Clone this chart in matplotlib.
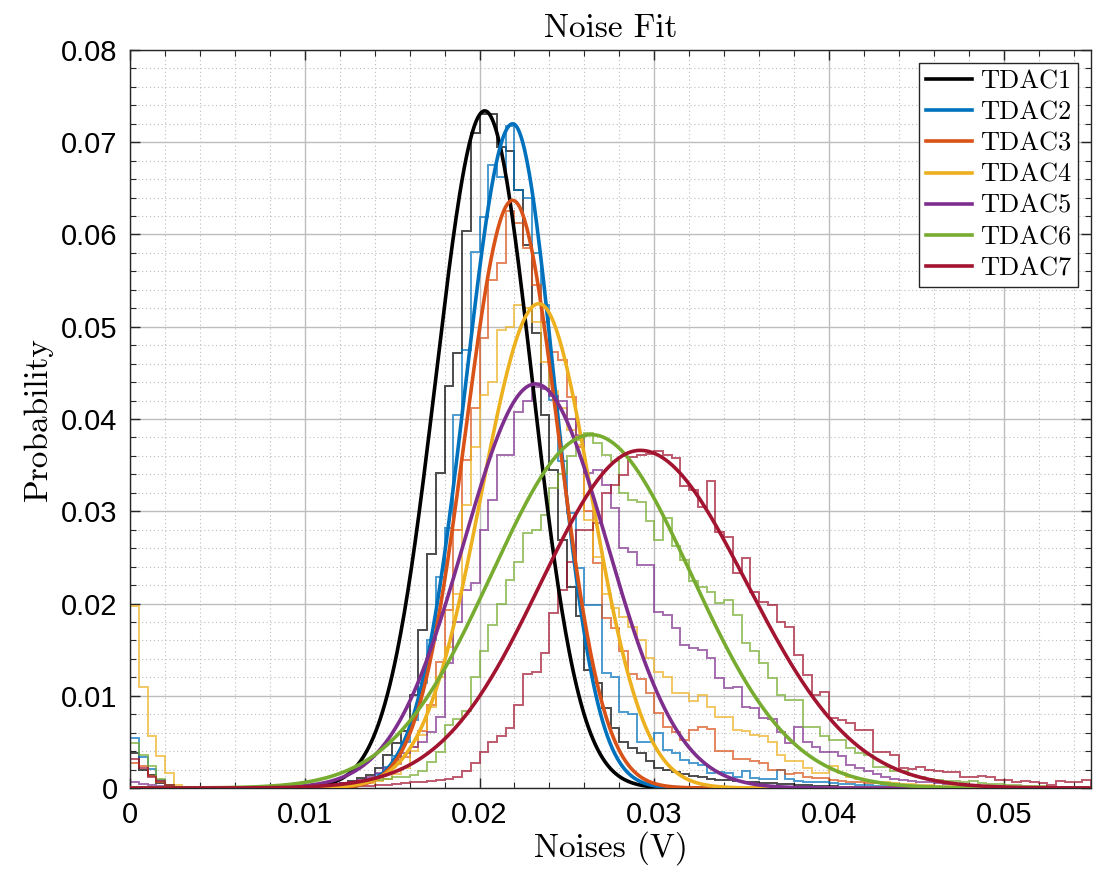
import numpy as np
import matplotlib
matplotlib.use("Agg")
import matplotlib.pyplot as plt
from matplotlib.ticker import MultipleLocator

# histogram bin width (V) and bin values
bin_width = 0.0005

tdac1 = [0.0038, 0.0020, 0.0014, 0.0005, 0.0002, 0, 0, 0, 0, 0,
         0, 0, 0, 0, 0, 0, 0, 0, 0.0001, 0.0001,
         0.0001, 0.0002, 0.0002, 0.0003, 0.0005, 0.0008, 0.0011, 0.0014, 0.0022, 0.0036,
         0.0049, 0.0062, 0.0101, 0.0171, 0.0254, 0.0341, 0.0436, 0.0472, 0.0604, 0.0710,
         0.0731, 0.0731, 0.0695, 0.0690, 0.0648, 0.0589, 0.0493, 0.0404, 0.0345, 0.0269,
         0.0218, 0.0186, 0.0128, 0.0114, 0.0087, 0.0065, 0.0050, 0.0043, 0.0038, 0.0029,
         0.0022, 0.0020, 0.0017, 0.0015, 0.0013, 0.0012, 0.0010, 0.0009, 0.0009, 0.0008,
         0.0007, 0.0006, 0.0005, 0.0005, 0.0004, 0.0004, 0.0003, 0.0003, 0.0002, 0.0002,
         0.0002, 0.0001, 0.0001, 0.0001, 0.0001, 0.0001, 0.0001, 0, 0, 0,
         0, 0, 0, 0, 0, 0, 0, 0, 0, 0,
         0, 0, 0, 0, 0, 0, 0, 0, 0, 0]

tdac2 = [0.0054, 0.0034, 0.0021, 0.0009, 0.0003, 0, 0, 0, 0, 0,
         0, 0, 0, 0, 0, 0, 0, 0, 0, 0.0001,
         0.0001, 0.0001, 0.0002, 0.0002, 0.0003, 0.0004, 0.0006, 0.0010, 0.0015, 0.0023,
         0.0035, 0.0050, 0.0074, 0.0114, 0.0160, 0.0229, 0.0282, 0.0404, 0.0475, 0.0581,
         0.0619, 0.0675, 0.0662, 0.0718, 0.0648, 0.0640, 0.0580, 0.0524, 0.0421, 0.0354,
         0.0298, 0.0238, 0.0198, 0.0198, 0.0125, 0.0120, 0.0082, 0.0080, 0.0050, 0.0050,
         0.0060, 0.0041, 0.0038, 0.0030, 0.0027, 0.0025, 0.0016, 0.0017, 0.0016, 0.0012,
         0.0018, 0.0011, 0.0010, 0.0010, 0.0019, 0.0010, 0.0008, 0.0007, 0.0006, 0.0006,
         0.0005, 0.0004, 0.0004, 0.0003, 0.0003, 0.0002, 0.0002, 0.0002, 0.0001, 0.0001,
         0.0001, 0.0001, 0, 0, 0, 0, 0, 0, 0, 0,
         0, 0, 0, 0, 0, 0, 0, 0, 0, 0]

tdac3 = [0.0027, 0.0024, 0.0013, 0.0006, 0.0002, 0, 0, 0, 0, 0,
         0, 0, 0, 0, 0, 0, 0, 0, 0, 0.0001,
         0.0001, 0.0001, 0.0002, 0.0002, 0.0003, 0.0004, 0.0006, 0.0008, 0.0012, 0.0018,
         0.0026, 0.0034, 0.0045, 0.0062, 0.0090, 0.0137, 0.0193, 0.0280, 0.0356, 0.0412,
         0.0488, 0.0551, 0.0569, 0.0625, 0.0612, 0.0585, 0.0545, 0.0505, 0.0473, 0.0464,
         0.0424, 0.0370, 0.0300, 0.0244, 0.0184, 0.0173, 0.0148, 0.0124, 0.0118, 0.0103,
         0.0081, 0.0066, 0.0061, 0.0052, 0.0063, 0.0066, 0.0064, 0.0040, 0.0040, 0.0032,
         0.0031, 0.0029, 0.0027, 0.0020, 0.0020, 0.0015, 0.0016, 0.0012, 0.0011, 0.0011,
         0.0009, 0.0008, 0.0007, 0.0006, 0.0005, 0.0005, 0.0004, 0.0003, 0.0003, 0.0002,
         0.0002, 0.0002, 0.0001, 0.0001, 0.0001, 0.0001, 0, 0, 0, 0,
         0, 0, 0, 0, 0, 0, 0, 0, 0, 0]

tdac4 = [0.0197, 0.0110, 0.0056, 0.0035, 0.0016, 0.0003, 0, 0, 0, 0,
         0, 0, 0, 0, 0, 0, 0, 0, 0, 0.0001,
         0.0001, 0.0001, 0.0001, 0.0002, 0.0002, 0.0003, 0.0004, 0.0005, 0.0008, 0.0010,
         0.0015, 0.0022, 0.0040, 0.0058, 0.0088, 0.0120, 0.0153, 0.0210, 0.0307, 0.0370,
         0.0426, 0.0440, 0.0496, 0.0500, 0.0524, 0.0520, 0.0505, 0.0462, 0.0430, 0.0412,
         0.0388, 0.0372, 0.0291, 0.0250, 0.0210, 0.0195, 0.0185, 0.0175, 0.0160, 0.0141,
         0.0126, 0.0120, 0.0103, 0.0103, 0.0094, 0.0101, 0.0088, 0.0077, 0.0077, 0.0063,
         0.0062, 0.0057, 0.0056, 0.0050, 0.0036, 0.0029, 0.0029, 0.0022, 0.0016, 0.0016,
         0.0024, 0.0016, 0.0012, 0.0010, 0.0008, 0.0007, 0.0006, 0.0005, 0.0004, 0.0004,
         0.0003, 0.0003, 0.0002, 0.0002, 0.0002, 0.0001, 0.0001, 0.0001, 0, 0,
         0, 0, 0, 0, 0, 0, 0, 0, 0, 0]

tdac5 = [0.0006, 0.0004, 0.0003, 0.0002, 0.0001, 0, 0, 0, 0, 0,
         0, 0, 0, 0, 0, 0, 0, 0, 0.0001, 0.0001,
         0.0001, 0.0002, 0.0003, 0.0004, 0.0005, 0.0007, 0.0009, 0.0012, 0.0016, 0.0022,
         0.0030, 0.0038, 0.0045, 0.0050, 0.0061, 0.0077, 0.0135, 0.0180, 0.0215, 0.0222,
         0.0280, 0.0312, 0.0361, 0.0361, 0.0408, 0.0420, 0.0435, 0.0432, 0.0425, 0.0420,
         0.0400, 0.0383, 0.0341, 0.0345, 0.0328, 0.0303, 0.0260, 0.0256, 0.0242, 0.0242,
         0.0191, 0.0188, 0.0173, 0.0155, 0.0152, 0.0150, 0.0141, 0.0119, 0.0108, 0.0110,
         0.0088, 0.0087, 0.0076, 0.0075, 0.0061, 0.0049, 0.0066, 0.0050, 0.0045, 0.0039,
         0.0039, 0.0035, 0.0025, 0.0022, 0.0018, 0.0015, 0.0012, 0.0010, 0.0009, 0.0008,
         0.0007, 0.0006, 0.0005, 0.0004, 0.0004, 0.0003, 0.0003, 0.0002, 0.0002, 0.0002,
         0.0001, 0.0001, 0.0001, 0.0001, 0.0001, 0, 0, 0, 0, 0]

tdac6 = [0.0049, 0.0036, 0.0024, 0.0010, 0.0003, 0, 0, 0, 0, 0,
         0, 0, 0, 0, 0, 0, 0, 0, 0.0001, 0.0001,
         0.0001, 0.0002, 0.0002, 0.0003, 0.0004, 0.0005, 0.0006, 0.0008, 0.0009, 0.0010,
         0.0012, 0.0012, 0.0014, 0.0018, 0.0028, 0.0039, 0.0068, 0.0075, 0.0083, 0.0120,
         0.0148, 0.0177, 0.0200, 0.0225, 0.0245, 0.0276, 0.0280, 0.0296, 0.0325, 0.0340,
         0.0360, 0.0377, 0.0385, 0.0374, 0.0361, 0.0355, 0.0320, 0.0312, 0.0310, 0.0289,
         0.0269, 0.0293, 0.0262, 0.0247, 0.0224, 0.0218, 0.0213, 0.0201, 0.0204, 0.0188,
         0.0157, 0.0148, 0.0135, 0.0119, 0.0101, 0.0095, 0.0095, 0.0066, 0.0066, 0.0056,
         0.0052, 0.0052, 0.0043, 0.0038, 0.0036, 0.0023, 0.0023, 0.0018, 0.0018, 0.0014,
         0.0012, 0.0010, 0.0009, 0.0008, 0.0008, 0.0006, 0.0008, 0.0005, 0.0004, 0.0004,
         0.0003, 0.0003, 0.0002, 0.0002, 0.0002, 0.0001, 0.0001, 0.0001, 0.0001, 0.0001]

tdac7 = [0.0032, 0.0022, 0.0012, 0.0008, 0.0003, 0.0001, 0, 0, 0, 0,
         0, 0, 0, 0, 0, 0, 0, 0, 0, 0,
         0, 0, 0, 0.0001, 0.0001, 0.0001, 0.0002, 0.0002, 0.0003, 0.0003,
         0.0004, 0.0005, 0.0006, 0.0007, 0.0008, 0.0009, 0.0010, 0.0012, 0.0018, 0.0027,
         0.0039, 0.0050, 0.0056, 0.0065, 0.0090, 0.0124, 0.0126, 0.0146, 0.0190, 0.0215,
         0.0245, 0.0280, 0.0280, 0.0287, 0.0320, 0.0328, 0.0339, 0.0359, 0.0361, 0.0362,
         0.0365, 0.0361, 0.0358, 0.0327, 0.0323, 0.0305, 0.0333, 0.0278, 0.0272, 0.0233,
         0.0249, 0.0213, 0.0202, 0.0198, 0.0180, 0.0175, 0.0144, 0.0122, 0.0101, 0.0104,
         0.0076, 0.0074, 0.0070, 0.0063, 0.0063, 0.0039, 0.0039, 0.0036, 0.0022, 0.0021,
         0.0023, 0.0020, 0.0018, 0.0017, 0.0017, 0.0012, 0.0012, 0.0013, 0.0012, 0.0009,
         0.0009, 0.0007, 0.0008, 0.0007, 0.0005, 0.0003, 0.0008, 0.0006, 0.0007, 0.0009]

# fitted curves per TDAC: peak height, centre, width on the left / right flank
fit_amp = [0.0734, 0.0720, 0.0637, 0.0525, 0.0438, 0.0383, 0.0366]
fit_mu = [0.0203, 0.0219, 0.0219, 0.0234, 0.0232, 0.0264, 0.0292]
fit_sigma_left = [0.0028, 0.0027, 0.0027, 0.0033, 0.0041, 0.0057, 0.0057]
fit_sigma_right = [0.0027, 0.0024, 0.0026, 0.0030, 0.0041, 0.0057, 0.0061]

labels = ["TDAC1", "TDAC2", "TDAC3", "TDAC4", "TDAC5", "TDAC6", "TDAC7"]
colors = ["#000000", "#0072BD", "#D95319", "#EDB120", "#7E2F8E", "#77AC30", "#A2142F"]

x_ticks = [0, 0.01, 0.02, 0.03, 0.04, 0.05]
x_tick_labels = ["0", "0.01", "0.02", "0.03", "0.04", "0.05"]
y_ticks = [0, 0.01, 0.02, 0.03, 0.04, 0.05, 0.06, 0.07, 0.08]
y_tick_labels = ["0", "0.01", "0.02", "0.03", "0.04", "0.05", "0.06", "0.07", "0.08"]

serif = "cmr10"
sans = "Liberation Sans"

fig = plt.figure(figsize=(11.04, 8.75), dpi=100)
ax = fig.add_axes([0.1178, 0.0994, 0.8705, 0.8435])

hists = [tdac1, tdac2, tdac3, tdac4, tdac5, tdac6, tdac7]
for vals, col in zip(hists, colors):
    edges = np.arange(len(vals) + 1) * bin_width
    ax.stairs(vals, edges, color=col, lw=1.4, alpha=0.7, zorder=2)

xs = np.linspace(0, 0.055, 800)
for a, m, sl, sr, col, lab in zip(fit_amp, fit_mu, fit_sigma_left, fit_sigma_right, colors, labels):
    s = np.where(xs < m, sl, sr)
    ax.plot(xs, a * np.exp(-(xs - m) ** 2 / (2 * s ** 2)), color=col, lw=2.6, label=lab, zorder=3)

ax.set_xlim(0, 0.055)
ax.set_ylim(0, 0.08)
ax.set_xticks(x_ticks, x_tick_labels, fontfamily=sans, fontsize=21)
ax.set_yticks(y_ticks, y_tick_labels, fontfamily=sans, fontsize=21)
ax.xaxis.set_minor_locator(MultipleLocator(0.002))
ax.yaxis.set_minor_locator(MultipleLocator(0.002))
ax.tick_params(which="both", direction="in", top=True, right=True, color="#262626")
ax.tick_params(which="major", length=7, width=1.0, pad=9)
ax.tick_params(which="minor", length=4, width=0.8)

ax.grid(which="major", color="#bdbdbd", lw=1.0, zorder=0)
ax.grid(which="minor", color="#bcbcbc", lw=0.8, linestyle=(0, (1, 2.5)), zorder=0)
ax.set_axisbelow(True)
for sp in ax.spines.values():
    sp.set_color("#262626")
    sp.set_linewidth(1.0)

ax.set_title("Noise Fit", fontfamily=serif, fontsize=24, pad=9)
ax.set_xlabel("Noises (V)", fontfamily=serif, fontsize=24, labelpad=2)
ax.set_ylabel("Probability", fontfamily=serif, fontsize=24, labelpad=6)

leg = ax.legend(loc="upper right", prop={"family": serif, "size": 19}, fancybox=False,
                framealpha=1, edgecolor="#262626", handlelength=1.75, handletextpad=0.3,
                labelspacing=0.28, borderpad=0.25, borderaxespad=0.5)
leg.get_frame().set_linewidth(1.0)

fig.savefig("out.png", dpi=100)
